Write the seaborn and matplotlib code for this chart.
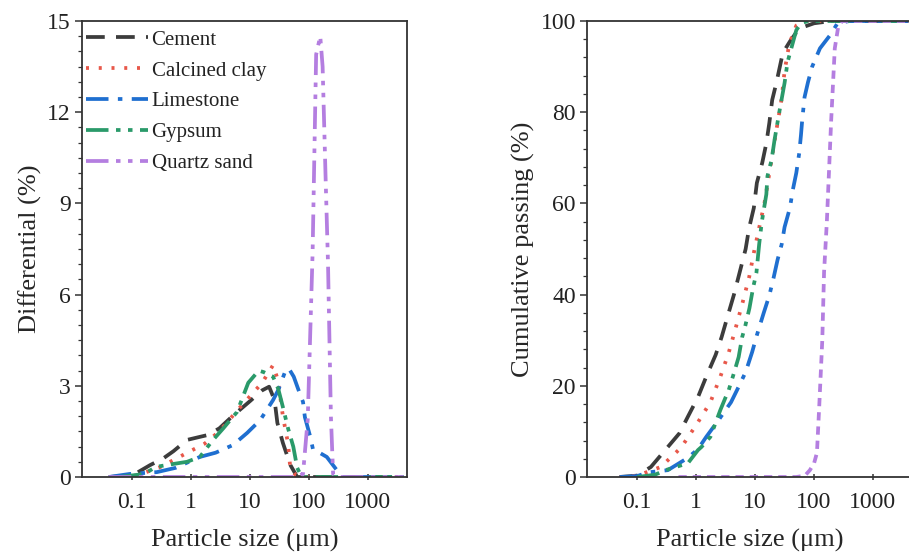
import numpy as np
import pandas as pd
import matplotlib
matplotlib.use("Agg")
import matplotlib.pyplot as plt
from matplotlib.ticker import AutoMinorLocator, FixedLocator, LogLocator, NullFormatter
import seaborn as sns

# ---- data ----
names = ["Cement", "Calcined clay", "Limestone", "Gypsum", "Quartz sand"]

# differential (%) vs particle size (um)
cement_d_x = [0.04, 0.1, 0.2, 0.34, 0.5, 0.85, 1.4, 1.9, 3, 5, 10, 16, 21, 26, 29, 36, 48, 63, 100, 4000]
cement_d_y = [0, 0.05, 0.39, 0.62, 0.85, 1.22, 1.32, 1.38, 1.6, 2.0, 2.5, 2.85, 2.97, 2.53, 1.78, 1.12, 0.4, 0, 0, 0]
clay_d_x = [0.04, 0.12, 0.3, 0.72, 1.7, 3, 6.8, 16, 24.5, 29.5, 36, 44, 48, 60, 80, 4000]
clay_d_y = [0, 0.05, 0.33, 0.72, 1.1, 1.5, 2.3, 3.1, 3.68, 3.2, 2.0, 1.1, 0.3, 0.05, 0, 0]
lime_d_x = [0.04, 0.09, 0.26, 0.54, 1.4, 2.6, 5.1, 8.9, 14.8, 24.5, 30, 39, 45, 55, 71, 79, 85, 105, 117, 150, 200, 295, 360, 4000]
lime_d_y = [0, 0.1, 0.16, 0.3, 0.66, 0.8, 1.05, 1.45, 1.87, 2.53, 2.86, 3.45, 3.58, 3.3, 2.7, 2.47, 1.97, 1.32, 0.9, 0.8, 0.66, 0.23, 0, 0]
gyp_d_x = [0.06, 0.16, 0.25, 0.4, 0.85, 1.4, 2.3, 3.5, 6, 9.3, 14, 17, 24.5, 30, 36, 44, 54, 63, 75, 4000]
gyp_d_y = [0, 0.1, 0.33, 0.4, 0.5, 0.66, 1.2, 1.6, 2.14, 3.1, 3.5, 3.45, 3.3, 2.9, 2.3, 1.6, 1.0, 0.3, 0, 0]
quartz_d_x = [0.04, 60, 79, 95, 115, 132, 155, 170, 190, 210, 235, 256, 300, 4000]
quartz_d_y = [0, 0, 0.1, 1.9, 7.4, 13.9, 14.5, 13.5, 10, 7, 2, 0.1, 0, 0]

# cumulative passing (%) vs particle size (um)
cement_c_x = [0.05, 0.1, 0.17, 0.52, 0.72, 1.07, 1.48, 2.14, 2.7, 3.55, 4.37, 5.75, 6.9, 7.9, 9.5, 10.7,
              13.2, 15.5, 17.4, 19.5, 22.9, 29.5, 38.9, 50, 70, 100, 200, 4000]
cement_c_y = [0, 0.3, 2.2, 9.6, 13.2, 17.5, 22, 26.8, 30.7, 36, 40, 46, 50, 54.6, 59, 64.5,
              68.9, 73.2, 77.6, 82.7, 86.4, 93, 95.5, 97.5, 98.8, 99.5, 100, 100]
clay_c_x = [0.05, 0.1, 0.25, 0.55, 1.0, 1.74, 2.57, 3.55, 4.68, 6.17, 7.94, 9.55, 14.5, 22.9, 28.2, 31.6, 38, 50, 70, 4000]
clay_c_y = [0, 0.3, 2.2, 6.4, 11.4, 16.4, 22, 27.2, 32.7, 38.4, 43.9, 49.3, 60.3, 76, 83, 89, 95, 99, 100, 100]
lime_c_x = [0.05, 0.1, 0.15, 0.33, 0.72, 1.07, 1.48, 2.4, 3.9, 4.9, 6.9, 8.9, 10.7, 14, 17.4, 20.5, 24, 28.2,
            31.6, 38.9, 43.7, 50, 56, 60, 63, 69, 79, 93, 126, 190, 250, 400, 4000]
lime_c_y = [0, 0.2, 1, 1.5, 4.2, 6.1, 8.8, 12.5, 16.4, 19, 23, 27.4, 31.1, 36, 39.8, 43.6, 47.6, 51,
            54.8, 59, 63, 66.7, 71, 75, 78.3, 83.3, 86.6, 90, 94, 97, 99.5, 100, 100]
gyp_c_x = [0.1, 0.2, 0.3, 0.72, 1.07, 1.23, 1.74, 2.57, 3.16, 3.55, 4.37, 5.25, 6.03, 6.76, 8, 9.3, 10.5,
           11.7, 13, 15.5, 16.2, 19, 21.4, 25.7, 31.6, 35.5, 50, 60, 80, 4000]
gyp_c_y = [0, 0.5, 1.5, 3, 5.9, 6.6, 8.8, 14.7, 17.5, 19, 22.8, 26.3, 30.7, 33, 37, 41.7, 44.7,
           51, 56, 62, 66, 69.5, 74, 80, 86.4, 91, 98, 99.5, 100, 100]
quartz_c_x = [0.5, 50, 70, 85, 100, 112, 122, 138, 148, 165, 195, 225, 257, 300, 4000]
quartz_c_y = [0, 0, 0.3, 1.5, 3, 5.3, 15, 30, 45, 56, 78, 94, 98.7, 100, 100]

diff_x = [cement_d_x, clay_d_x, lime_d_x, gyp_d_x, quartz_d_x]
diff_y = [cement_d_y, clay_d_y, lime_d_y, gyp_d_y, quartz_d_y]
cum_x = [cement_c_x, clay_c_x, lime_c_x, gyp_c_x, quartz_c_x]
cum_y = [cement_c_y, clay_c_y, lime_c_y, gyp_c_y, quartz_c_y]

colors = ["#3c3c3c", "#e8584a", "#1f6fd0", "#2a9a6a", "#b47ee0"]
styles_left = [(0, (5, 3)), (0, (0.8, 2.6)), (0, (6, 2.5, 1.2, 2.5)),
               (0, (6, 2, 1.2, 2, 1.2, 2)), (0, (6, 2, 1.2, 2, 1.2, 2))]
styles_right = styles_left[:4] + [(0, (2.2, 1.6))]

sns.set_theme(style="ticks")
plt.rcParams['font.family'] = ['Liberation Serif', 'DejaVu Serif']

fig = plt.figure(figsize=(9.09, 5.58), dpi=100)
ax1 = fig.add_axes([82 / 909, 81 / 558, 325 / 909, 456 / 558])
ax2 = fig.add_axes([587 / 909, 81 / 558, 325 / 909, 456 / 558])

lw = 2.7
for i, name in enumerate(names):
    sns.lineplot(x=diff_x[i], y=diff_y[i], ax=ax1, color=colors[i], linewidth=lw,
                 linestyle=styles_left[i], label=name, estimator=None)
    sns.lineplot(x=cum_x[i], y=cum_y[i], ax=ax2, color=colors[i], linewidth=lw,
                 linestyle=styles_right[i], estimator=None, legend=False)

xticks = [0.1, 1, 10, 100, 1000]
xlabels = ["0.1", "1", "10", "100", "1000"]
for ax in (ax1, ax2):
    ax.set_xscale("log")
    ax.set_xlim(0.014, 4600)
    ax.xaxis.set_major_locator(FixedLocator(xticks))
    ax.set_xticklabels(xlabels)
    ax.xaxis.set_minor_locator(LogLocator(base=10, subs=np.arange(2, 10)))
    ax.xaxis.set_minor_formatter(NullFormatter())
    ax.set_xlabel("Particle size (\u03bcm)", fontsize=19, labelpad=12)
    ax.tick_params(axis="both", which="major", labelsize=17, length=5, width=1.1,
                   color="#333333", labelcolor="#222222", pad=3)
    ax.tick_params(axis="x", which="major", pad=8)
    ax.tick_params(axis="both", which="minor", length=3, width=0.9, color="#333333")
    ax.tick_params(axis="x", which="both", direction="inout")
    for s in ax.spines.values():
        s.set_linewidth(1.3)
        s.set_color("#333333")

ax1.set_ylim(0, 15)
ax1.set_yticks([0, 3, 6, 9, 12, 15])
ax1.yaxis.set_minor_locator(AutoMinorLocator(6))
ax1.set_ylabel("Differential (%)", fontsize=19, labelpad=4)

ax2.set_ylim(0, 100)
ax2.set_yticks([0, 20, 40, 60, 80, 100])
ax2.yaxis.set_minor_locator(AutoMinorLocator(5))
ax2.set_ylabel("Cumulative passing (%)", fontsize=19, labelpad=4)

leg = ax1.legend(loc="upper left", bbox_to_anchor=(0.012, 0.98), frameon=False,
                 fontsize=15, handlelength=3.0, handletextpad=0.15,
                 labelspacing=0.54, borderpad=0, borderaxespad=0)
for t in leg.get_texts():
    t.set_color("#222222")

fig.savefig("out.png", dpi=100)
